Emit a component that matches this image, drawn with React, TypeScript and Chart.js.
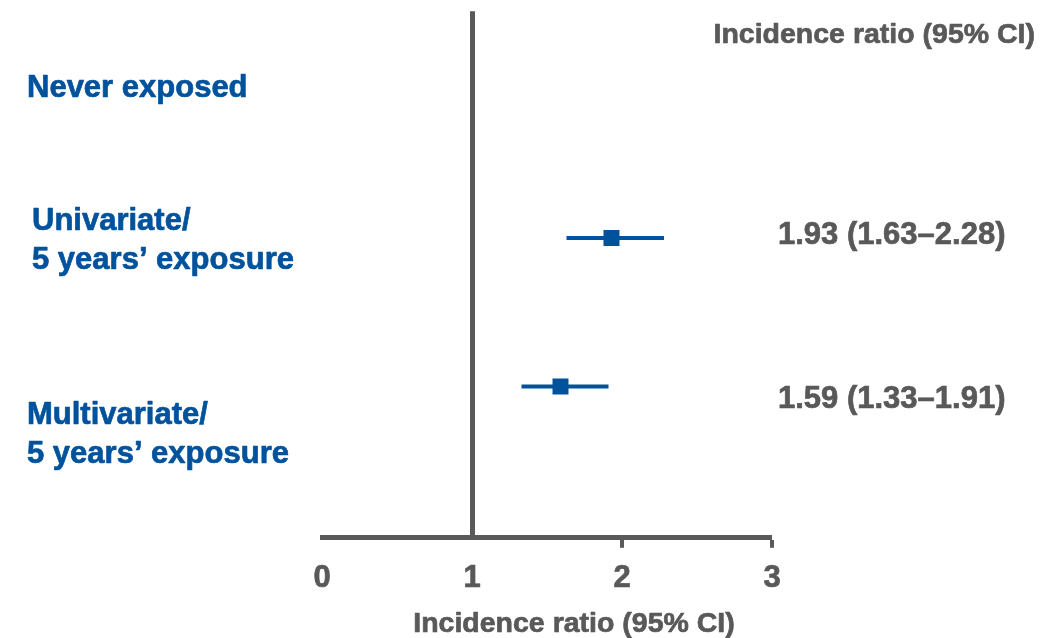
import React, { useEffect, useRef } from "react";
import { Chart, registerables } from "chart.js";

Chart.register(...registerables);

// ---- data ----
const rowLabels: string[][] = [
  ["Never exposed"],
  ["Univariate/", "5 years’ exposure"],
  ["Multivariate/", "5 years’ exposure"],
];
const rowIndex = [1, 2];
const estimates = [1.93, 1.59];
const lowerCI = [1.63, 1.33];
const upperCI = [2.28, 1.91];
const ciLabels = ["1.93 (1.63–2.28)", "1.59 (1.33–1.91)"];
const xTicks = [0, 1, 2, 3];
const headerText = "Incidence ratio (95% CI)";
const axisTitle = "Incidence ratio (95% CI)";

const BLUE = "#00529C";
const GRAY = "#595959";
const FONT = '"Liberation Sans", Arial, sans-serif';

const textPlugin = {
  id: "forestText",
  afterDraw(chart: any) {
    const ctx = chart.ctx as CanvasRenderingContext2D;
    ctx.save();
    ctx.textBaseline = "alphabetic";
    ctx.lineJoin = "round";
    ctx.lineWidth = 0.7;
    const put = (t: string, x: number, y: number) => {
      ctx.fillText(t, x, y);
      ctx.strokeText(t, x, y);
    };
    // left row labels
    ctx.fillStyle = BLUE;
    ctx.strokeStyle = BLUE;
    ctx.font = `bold 31px ${FONT}`;
    ctx.textAlign = "left";
    const labelPos: [number, number[]][] = [
      [27, [97]],
      [32, [230, 269]],
      [27, [424, 463]],
    ];
    rowLabels.forEach((lines, i) => {
      const [x, ys] = labelPos[i];
      lines.forEach((ln, j) => put(ln, x, ys[j]));
    });
    // right values
    ctx.fillStyle = GRAY;
    ctx.strokeStyle = GRAY;
    ctx.font = `bold 31px ${FONT}`;
    const valueY = [244, 408];
    ciLabels.forEach((t, i) => put(t, 778, valueY[i]));
    // header
    ctx.font = `bold 28.5px ${FONT}`;
    ctx.textAlign = "right";
    put(headerText, 1035, 43);
    // axis title
    ctx.textAlign = "center";
    put(axisTitle, 574, 632);
    ctx.restore();
  },
};

export default function App() {
  const ref = useRef<HTMLCanvasElement | null>(null);
  useEffect(() => {
    if (!ref.current) return;
    const ciDatasets = rowIndex.map((r, i) => ({
      type: "line" as const,
      data: [
        { x: lowerCI[i], y: r },
        { x: upperCI[i], y: r },
      ],
      borderColor: BLUE,
      borderWidth: 4,
      pointRadius: 0,
      borderCapStyle: "butt" as const,
    }));
    const chart = new Chart(ref.current, {
      type: "scatter",
      data: {
        datasets: [
          ...ciDatasets,
          {
            type: "scatter" as const,
            data: rowIndex.map((r, i) => ({ x: estimates[i], y: r })),
            backgroundColor: BLUE,
            borderColor: BLUE,
            borderWidth: 0,
            pointStyle: "rect",
            pointRadius: 11.3,
          },
        ],
      },
      options: {
        animation: false,
        responsive: true,
        maintainAspectRatio: false,
        layout: { padding: { left: 322, right: 292, top: 10, bottom: 29 } },
        plugins: { legend: { display: false }, tooltip: { enabled: false } },
        scales: {
          y: {
            type: "linear",
            display: false,
            reverse: true,
            min: -0.527,
            max: 3.02,
          },
          x: {
            type: "linear",
            min: 0,
            max: 3,
            afterBuildTicks: (s: any) => {
              s.ticks = xTicks.map((v) => ({ value: v }));
            },
            border: { display: true, color: GRAY, width: 5 },
            grid: {
              drawOnChartArea: true,
              drawTicks: true,
              tickLength: 10,
              color: (c: any) => (c.tick && c.tick.value === 1 ? GRAY : "rgba(0,0,0,0)"),
              lineWidth: (c: any) => (c.tick && c.tick.value === 1 ? 5 : 0),
              tickColor: (c: any) => (c.tick && c.tick.value >= 2 ? GRAY : "rgba(0,0,0,0)"),
              tickWidth: 4,
            },
            ticks: {
              color: GRAY,
              padding: 12,
              textStrokeColor: GRAY,
              textStrokeWidth: 0.7,
              font: { family: FONT, size: 31, weight: "bold" },
              callback: (v: any) => String(v),
            },
          },
        },
      },
      plugins: [textPlugin],
    });
    return () => chart.destroy();
  }, []);
  return (
    <div style={{ position: "fixed", left: 0, top: 0, width: 1064, height: 638, background: "#fff" }}>
      <canvas ref={ref} />
    </div>
  );
}
